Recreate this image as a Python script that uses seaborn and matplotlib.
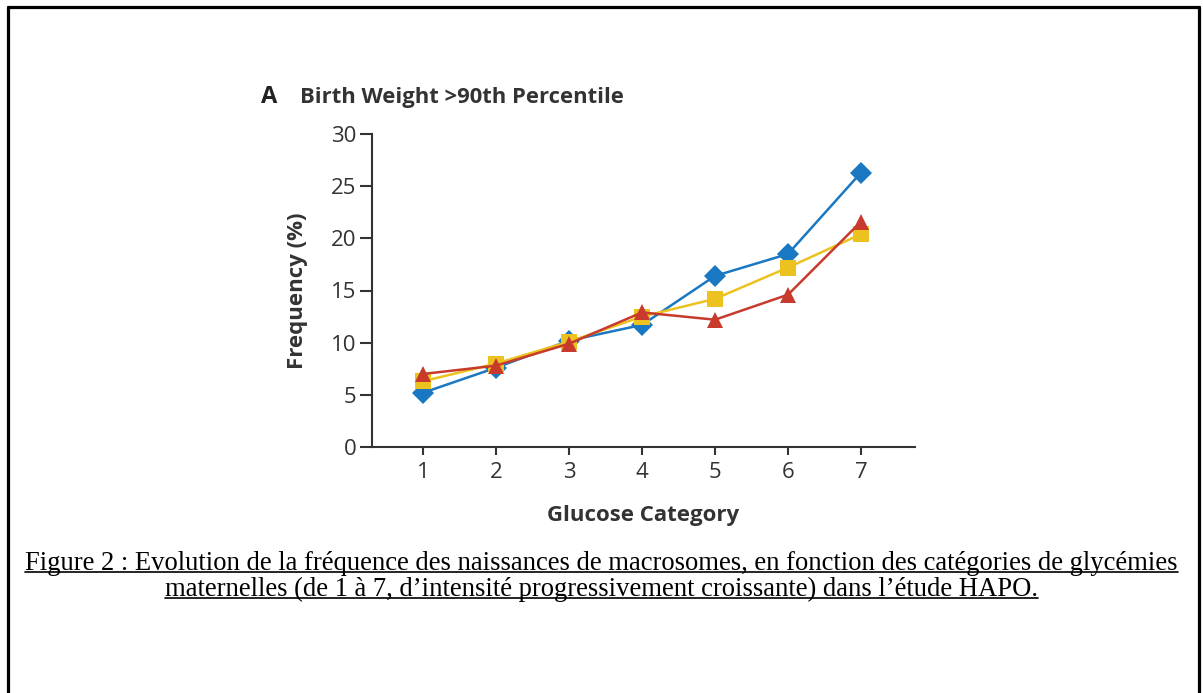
import pandas as pd
import seaborn as sns
import matplotlib.pyplot as plt
from matplotlib.lines import Line2D

categories = [1, 2, 3, 4, 5, 6, 7]
blue_vals = [5.2, 7.6, 10.2, 11.7, 16.4, 18.5, 26.3]
yellow_vals = [6.3, 8.0, 10.1, 12.5, 14.2, 17.2, 20.4]
red_vals = [7.0, 7.8, 9.9, 12.9, 12.2, 14.6, 21.6]
yticks = [0, 5, 10, 15, 20, 25, 30]

df = pd.concat([
    pd.DataFrame({"cat": categories, "freq": blue_vals, "grp": "blue"}),
    pd.DataFrame({"cat": categories, "freq": yellow_vals, "grp": "yellow"}),
    pd.DataFrame({"cat": categories, "freq": red_vals, "grp": "red"}),
])

sns.set_style("white")
plt.rcParams['font.family'] = ['Open Sans', 'DejaVu Sans']

fig = plt.figure(figsize=(12.03, 6.93), dpi=100)
ax = fig.add_axes([372/1203, 1-447/693, 543/1203, 313/693])

pal = {"blue": "#1a78c2", "yellow": "#ecc21e", "red": "#c83b2c"}
marks = {"blue": "D", "yellow": "s", "red": "^"}
sns.lineplot(data=df, x="cat", y="freq", hue="grp", style="grp",
             palette=pal, markers=marks, dashes=False, markersize=11,
             markeredgewidth=0, linewidth=1.8, legend=False, ax=ax)

ax.set_xlim(0.3, 7.74)
ax.set_ylim(0, 30)
ax.set_xticks(categories)
ax.set_yticks(yticks)
sns.despine(ax=ax)
for s in ["left", "bottom"]:
    ax.spines[s].set_color("#333333")
    ax.spines[s].set_linewidth(1.5)
ax.tick_params(axis="both", direction="out", width=1.5,
               color="#333333", labelsize=16, labelcolor="#333333",
               left=True, bottom=True, pad=2)
ax.tick_params(axis="y", length=9)
ax.tick_params(axis="x", length=6, pad=5)
ax.set_xlabel("Glucose Category", fontsize=16, fontweight="bold",
              color="#333333", labelpad=16)
ax.set_ylabel("Frequency (%)", fontsize=16, fontweight="bold",
              color="#333333", labelpad=17)

fig.text(261/1203, 1-97/693, "A", fontsize=17, fontweight="bold",
         color="#222222", va="center", ha="left")
fig.text(300/1203, 1-97/693, "Birth Weight >90th Percentile", fontsize=15.8,
         fontweight="bold", color="#333333", va="center", ha="left")

cap1 = "Figure 2 : Evolution de la fréquence des naissances de macrosomes, en fonction des catégories de glycémies"
cap2 = "maternelles (de 1 à 7, d\u2019intensité progressivement croissante) dans l\u2019étude HAPO."
t1 = fig.text(0.5, 1-563/693, cap1, fontsize=19.2, family="Liberation Serif",
              ha="center", va="center", color="black")
t2 = fig.text(0.5, 1-589/693, cap2, fontsize=19.2, family="Liberation Serif",
              ha="center", va="center", color="black")

# underline the caption lines
fig.canvas.draw()
r = fig.canvas.get_renderer()
for t in (t1, t2):
    bb = t.get_window_extent(r).transformed(fig.transFigure.inverted())
    yline = bb.y0 + 0.005
    fig.add_artist(Line2D([bb.x0, bb.x1], [yline, yline], color="black", lw=1.2))

# outer frame
fy = 1-7/693
fig.add_artist(Line2D([7.5/1203, 7.5/1203], [0, fy], color="black", lw=2.3))
fig.add_artist(Line2D([7.5/1203, 1199/1203], [fy, fy], color="black", lw=2.3))
fig.add_artist(Line2D([1199/1203, 1199/1203], [0, fy], color="black", lw=2.3))

fig.savefig("out.png", dpi=100)
